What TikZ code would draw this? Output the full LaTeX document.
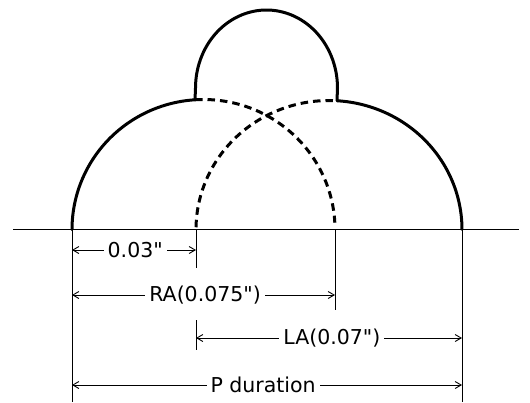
\documentclass[tikz,border=0pt]{standalone}
\usepackage{fontspec}
\setmainfont{DejaVu Sans}[Ligatures=TeXOff]
\usetikzlibrary{arrows.meta}
\begin{document}
\begin{tikzpicture}[x=1pt,y=-1pt,
  wave/.style={line width=3pt, line join=round, line cap=round},
  hidden/.style={line width=3pt, dash pattern=on 7.5pt off 5pt},
  base/.style={line width=1.3pt},
  ext/.style={line width=0.9pt},
  dim/.style={line width=0.9pt, {Straight Barb[length=6pt,width=7pt]}-{Straight Barb[length=6pt,width=7pt]}},
  lbl/.style={fill=white, inner xsep=4pt, inner ysep=1pt, font=\fontsize{20.5}{22}\selectfont}
]
\useasboundingbox (0,0) rectangle (530,402);
% feet on the baseline
\coordinate (L) at (72,229.5);
\coordinate (R) at (462,229.5);
\coordinate (RAe) at (335,229.5);
\coordinate (LAb) at (196,229.5);
% baseline
\coordinate (B1) at (13,229.5);
\coordinate (B2) at (519,229.5);
\draw[base] (B1) -- (B2);
% solid outline: RA rise, central hump, LA fall
\draw[wave] plot[domain=180:266.3, samples=60, smooth] ({203.5+131.5*cos(\x)},{229.5+130*sin(\x)})
  -- plot[domain=180:360, samples=60, smooth] ({266.5+71*cos(\x)},{88+78*sin(\x)})
  -- plot[domain=273.45:360, samples=60, smooth] ({329+133*cos(\x)},{229.5+129*sin(\x)});
% dashed continuations
\draw[hidden] plot[domain=266.3:357, samples=60, smooth] ({203.5+131.5*cos(\x)},{229.5+130*sin(\x)});
\draw[hidden] plot[domain=181:273.45, samples=60, smooth] ({329+133*cos(\x)},{229.5+129*sin(\x)});
% extension lines
\coordinate (Lb) at (72,402);
\coordinate (Rb) at (462,402);
\coordinate (LAe1) at (196,268);
\coordinate (RAe1) at (335,310);
\coordinate (LAt) at (196,320);
\coordinate (LAb2) at (196,350);
\draw[ext] (L) -- (Lb);
\draw[ext] (R) -- (Rb);
\draw[ext] (LAb) -- (LAe1);
\draw[ext] (RAe) -- (RAe1);
\draw[ext] (LAt) -- (LAb2);
% dimensions
\coordinate (d1a) at (72,250);  \coordinate (d1b) at (196,250);
\coordinate (d2a) at (72,295);  \coordinate (d2b) at (335,295);
\coordinate (d3a) at (196,338); \coordinate (d3b) at (462,338);
\coordinate (d4a) at (72,385);  \coordinate (d4b) at (462,385);
\draw[dim] (d1a) -- (d1b) node[lbl, pos=0.51] (t1) {0.03"};
\draw[dim] (d2a) -- (d2b) node[lbl, pos=0.506] (t2) {RA(0.075")};
\draw[dim] (d3a) -- (d3b) node[lbl, pos=0.511] (t3) {LA(0.07")};
\draw[dim] (d4a) -- (d4b) node[lbl, pos=0.49] (t4) {P duration};
\end{tikzpicture}
\end{document}
